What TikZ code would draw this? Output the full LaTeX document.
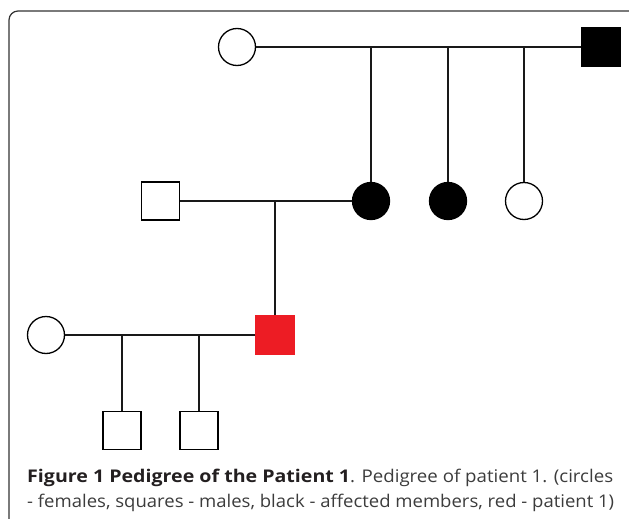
\documentclass[tikz,border=0pt]{standalone}
\usepackage{fontspec}
\setmainfont{Open Sans}
\definecolor{capgray}{HTML}{3C3C3C}
\definecolor{capblack}{HTML}{231F20}
\definecolor{patred}{HTML}{ED1C24}
\begin{document}
\begin{tikzpicture}[x=1pt,y=-1pt,
  fem/.style={circle,draw,minimum size=37pt,inner sep=0pt,line width=1.3pt,fill=white},
  mal/.style={rectangle,draw,minimum size=38pt,inner sep=0pt,line width=1.3pt,fill=white},
  aff/.style={fill=black},
  pat/.style={fill=patred,draw=patred},
  rel/.style={line width=1.5pt,draw=black!90},
  captext/.style={anchor=base west,inner sep=0pt,font=\fontsize{17.5}{25}\selectfont,text=capgray}]
\useasboundingbox (0,0) rectangle (629,519);
\begin{scope}
\clip (0,0) rectangle (629,519);
\draw[line width=1.2pt,draw=black!80,rounded corners=9pt] (9,11) rectangle (650,540);
\end{scope}
% generation I
\node[fem] (c1) at (237,47) {};
\node[mal,aff] (s1) at (601,47) {};
% generation II
\node[mal] (m2) at (160.5,201) {};
\node[fem,aff] (d1) at (371,201) {};
\node[fem,aff] (d2) at (448,201) {};
\node[fem] (d3) at (524,201) {};
% generation III
\node[fem] (w3) at (46,335) {};
\node[mal,pat] (p) at (275,335) {};
% generation IV
\node[mal] (k1) at (122,430.5) {};
\node[mal] (k2) at (199,430.5) {};
% connectors
\draw[rel] (c1.east) -- (s1.west);
\draw[rel] (d1 |- c1) -- (d1.north);
\draw[rel] (d2 |- c1) -- (d2.north);
\draw[rel] (d3 |- c1) -- (d3.north);
\draw[rel] (m2.east) -- (d1.west);
\draw[rel] (p |- m2) -- (p.north);
\draw[rel] (w3.east) -- (p.west);
\draw[rel] (k1 |- p) -- (k1.north);
\draw[rel] (k2 |- p) -- (k2.north);
% caption
\node[captext] (cap1) at (27,482.5)
 {\resizebox{323pt}{\height}{\color{capblack}\bfseries Figure 1 Pedigree of the Patient 1}\resizebox{263pt}{\height}{. Pedigree of patient 1. (circles}};
\node[captext] (cap2) at (27,507.5)
 {\resizebox{587pt}{\height}{- females, squares - males, black - affected members, red - patient 1)}};
\end{tikzpicture}
\end{document}
